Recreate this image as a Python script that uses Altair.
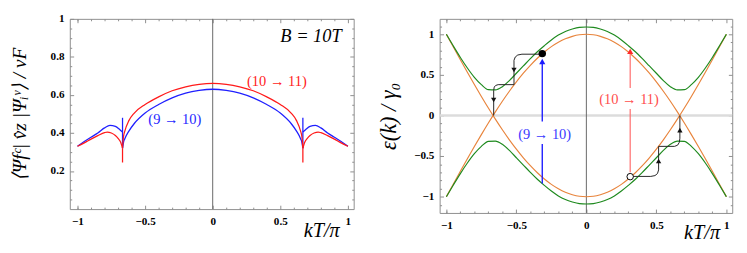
import altair as alt
import pandas as pd

# ---------------- left panel: matrix elements ----------------
blue_x = [-1.0, -0.95, -0.9, -0.85, -0.8, -0.76, -0.72, -0.69, -0.667,
          -0.667, -0.66, -0.65, -0.62, -0.58, -0.5, -0.4, -0.3, -0.2, -0.1, 0.0,
          0.1, 0.2, 0.3, 0.4, 0.5, 0.58, 0.62, 0.65, 0.66, 0.667,
          0.667, 0.69, 0.72, 0.76, 0.8, 0.85, 0.9, 0.95, 1.0]
blue_y = [0.33, 0.355, 0.378, 0.40, 0.427, 0.44, 0.435, 0.42, 0.405,
          0.32, 0.35, 0.37, 0.41, 0.45, 0.505, 0.55, 0.585, 0.61, 0.624, 0.63,
          0.624, 0.61, 0.585, 0.55, 0.505, 0.45, 0.41, 0.37, 0.35, 0.32,
          0.405, 0.42, 0.435, 0.44, 0.427, 0.40, 0.378, 0.355, 0.33]
blue_seg = [0, 0, 0, 0, 0, 0, 0, 0, 0,
            1, 1, 1, 1, 1, 1, 1, 1, 1, 1, 1, 1, 1, 1, 1, 1, 1, 1, 1, 1, 1,
            2, 2, 2, 2, 2, 2, 2, 2, 2]

red_x = [-1.0, -0.95, -0.9, -0.85, -0.8, -0.78, -0.75, -0.72, -0.7, -0.68, -0.667,
         -0.667, -0.66, -0.65, -0.62, -0.58, -0.5, -0.4, -0.3, -0.2, -0.1, 0.0,
         0.1, 0.2, 0.3, 0.4, 0.5, 0.58, 0.62, 0.65, 0.66, 0.667,
         0.667, 0.68, 0.7, 0.72, 0.75, 0.78, 0.8, 0.85, 0.9, 0.95, 1.0]
red_y = [0.33, 0.348, 0.368, 0.386, 0.402, 0.405, 0.40, 0.387, 0.372, 0.35, 0.32,
         0.32, 0.38, 0.41, 0.465, 0.505, 0.55, 0.59, 0.622, 0.643, 0.656, 0.661,
         0.656, 0.643, 0.622, 0.59, 0.55, 0.505, 0.465, 0.41, 0.38, 0.32,
         0.32, 0.35, 0.372, 0.387, 0.40, 0.405, 0.402, 0.386, 0.368, 0.348, 0.33]
red_seg = [0, 0, 0, 0, 0, 0, 0, 0, 0, 0, 0,
           1, 1, 1, 1, 1, 1, 1, 1, 1, 1, 1, 1, 1, 1, 1, 1, 1, 1, 1, 1, 1,
           2, 2, 2, 2, 2, 2, 2, 2, 2, 2, 2]

# vertical spikes at the band crossings
spike_series = ["blue", "blue", "red", "red"]
spike_x = [-0.667, 0.667, -0.667, 0.667]
spike_lo = [0.32, 0.32, 0.245, 0.245]
spike_hi = [0.48, 0.48, 0.32, 0.32]

# ---------------- right panel: bands ----------------
k_grid = [-1.0, -0.95, -0.9, -0.85, -0.8, -0.75, -0.7, -0.65, -0.6, -0.55, -0.5,
          -0.45, -0.4, -0.35, -0.3, -0.25, -0.2, -0.15, -0.1, -0.05, 0.0,
          0.05, 0.1, 0.15, 0.2, 0.25, 0.3, 0.35, 0.4, 0.45, 0.5,
          0.55, 0.6, 0.65, 0.7, 0.75, 0.8, 0.85, 0.9, 0.95, 1.0]
orange_a = [1.0, 0.843, 0.687, 0.533, 0.382, 0.235, 0.092, -0.045, -0.176, -0.299, -0.414,
            -0.521, -0.618, -0.705, -0.782, -0.848, -0.902, -0.945, -0.975, -0.994, -1.0,
            -0.994, -0.975, -0.945, -0.902, -0.848, -0.782, -0.705, -0.618, -0.521, -0.414,
            -0.299, -0.176, -0.045, 0.092, 0.235, 0.382, 0.533, 0.687, 0.843, 1.0]
orange_b = [-1.0, -0.843, -0.687, -0.533, -0.382, -0.235, -0.092, 0.045, 0.176, 0.299, 0.414,
            0.521, 0.618, 0.705, 0.782, 0.848, 0.902, 0.945, 0.975, 0.994, 1.0,
            0.994, 0.975, 0.945, 0.902, 0.848, 0.782, 0.705, 0.618, 0.521, 0.414,
            0.299, 0.176, 0.045, -0.092, -0.235, -0.382, -0.533, -0.687, -0.843, -1.0]
green_up = [1.0, 0.855, 0.715, 0.585, 0.47, 0.38, 0.318, 0.315, 0.355, 0.43, 0.52,
            0.61, 0.70, 0.785, 0.86, 0.93, 0.99, 1.035, 1.065, 1.085, 1.09,
            1.085, 1.065, 1.035, 0.99, 0.93, 0.86, 0.785, 0.70, 0.61, 0.52,
            0.43, 0.355, 0.315, 0.318, 0.38, 0.47, 0.585, 0.715, 0.855, 1.0]
green_dn = [-1.0, -0.855, -0.715, -0.585, -0.47, -0.38, -0.318, -0.315, -0.355, -0.43, -0.52,
            -0.61, -0.70, -0.785, -0.86, -0.93, -0.99, -1.035, -1.065, -1.085, -1.09,
            -1.085, -1.065, -1.035, -0.99, -0.93, -0.86, -0.785, -0.70, -0.61, -0.52,
            -0.43, -0.355, -0.315, -0.318, -0.38, -0.47, -0.585, -0.715, -0.855, -1.0]

# transition arrows (vertical), split around their labels
blue_arrow_x = [-0.315, -0.315, -0.315, -0.315]
blue_arrow_y = [-0.836, -0.35, -0.075, 0.66]
blue_arrow_seg = [0, 0, 1, 1]
red_arrow_x = [0.313, 0.313, 0.313, 0.313]
red_arrow_y = [-0.70, 0.08, 0.34, 0.78]
red_arrow_seg = [0, 0, 1, 1]

# black relaxation paths
path1_x = [-0.315, -0.46, -0.49, -0.508, -0.517, -0.517, -0.63, -0.648, -0.658, -0.662, -0.662]
path1_y = [0.755, 0.755, 0.745, 0.72, 0.68, 0.38, 0.38, 0.37, 0.35, 0.31, 0.0]
path2_x = [0.313, 0.46, 0.49, 0.508, 0.516, 0.516, 0.63, 0.652, 0.664, 0.668, 0.668]
path2_y = [-0.75, -0.75, -0.74, -0.715, -0.67, -0.38, -0.38, -0.365, -0.33, -0.28, 0.0]

head_x = [-0.517, -0.662, 0.516, 0.668]
head_y = [0.56, 0.19, -0.56, -0.18]
head_shape = ["triangle-down", "triangle-down", "triangle-up", "triangle-up"]

FONT = "'Liberation Serif', 'Times New Roman', Times, serif"
TICK = "#8c8c8c"
BLUE = "#1f1fff"
RED = "#ff1a1a"
ORANGE = "#e8843c"
GREEN = "#1e8a1e"

# ---------------- data frames ----------------
def curve_df(xs, ys, segs):
    return pd.DataFrame({"x": xs, "y": ys, "seg": segs, "i": list(range(len(xs)))})


blue_df = curve_df(blue_x, blue_y, blue_seg)
red_df = curve_df(red_x, red_y, red_seg)
spike_df = pd.DataFrame({"x": spike_x, "lo": spike_lo, "hi": spike_hi, "series": spike_series})

rows = []
for name, ys in [("orange_a", orange_a), ("orange_b", orange_b), ("green_up", green_up), ("green_dn", green_dn)]:
    for i, (a, b) in enumerate(zip(k_grid, ys)):
        rows.append({"x": a, "y": b, "series": name, "i": i})
right_df = pd.DataFrame(rows)

blue_arrow_df = curve_df(blue_arrow_x, blue_arrow_y, blue_arrow_seg)
red_arrow_df = curve_df(red_arrow_x, red_arrow_y, red_arrow_seg)

path_rows = []
for name, xs, ys in [("p1", path1_x, path1_y), ("p2", path2_x, path2_y)]:
    for i, (a, b) in enumerate(zip(xs, ys)):
        path_rows.append({"x": a, "y": b, "seg": name, "i": i})
path_df = pd.DataFrame(path_rows)

head_df = pd.DataFrame({"x": head_x, "y": head_y, "shape": head_shape})


def tick_axis(orient, values, size, labels=False, **kw):
    return alt.Axis(orient=orient, values=values, tickSize=size, offset=-size, domain=False,
                    grid=False, labels=labels, tickColor=TICK, tickWidth=1, **kw)


def make_panel(df, xs, ys, h, xmaj, xmin, ymaj, ymin, xtitle_x, xtitle_y, ytitle, ytitle_x, ytitle_size):
    def X(axis):
        return alt.X("x:Q", scale=xs, axis=axis)

    def Y(axis):
        return alt.Y("y:Q", scale=ys, axis=axis)

    xmain = tick_axis("bottom", xmaj, 4, labels=True, format="~g", labelPadding=7,
                      labelFont=FONT, labelFontWeight="bold", labelFontSize=11.5, labelColor="black",
                      title="kT/π", titleFont=FONT, titleFontStyle="italic", titleFontWeight="normal",
                      titleFontSize=21, titleAlign="right", titleBaseline="alphabetic",
                      titleX=xtitle_x, titleY=xtitle_y, titleAnchor="start", titleColor="black")
    ymain = tick_axis("left", ymaj, 4, labels=True, format="~g", labelPadding=6,
                      labelFont=FONT, labelFontWeight="bold", labelFontSize=11.5, labelColor="black",
                      title=ytitle, titleFont=FONT, titleFontStyle="italic", titleFontWeight="normal",
                      titleFontSize=ytitle_size, titleX=ytitle_x, titleY=h / 2, titleAngle=-90,
                      titleAlign="center", titleBaseline="bottom", titleColor="black")
    carriers = [
        alt.Chart(df).mark_point(opacity=0).encode(x=X(xmain), y=Y(ymain)),
        alt.Chart(df).mark_point(opacity=0).encode(x=X(tick_axis("bottom", xmin, 2, title=None)),
                                                   y=Y(tick_axis("left", ymin, 2, title=None))),
        alt.Chart(df).mark_point(opacity=0).encode(x=X(tick_axis("top", xmaj, 4, title=None)),
                                                   y=Y(tick_axis("right", ymaj, 4, title=None))),
        alt.Chart(df).mark_point(opacity=0).encode(x=X(tick_axis("top", xmin, 2, title=None)),
                                                   y=Y(tick_axis("right", ymin, 2, title=None))),
    ]
    return X, Y, carriers


# ---------- left panel ----------
xsL = alt.Scale(domain=[-1.057, 1.043], nice=False, zero=False)
ysL = alt.Scale(domain=[0, 1.0], nice=False, zero=False)
minorL_x = [-1.0, -0.9, -0.8, -0.7, -0.6, -0.4, -0.3, -0.2, -0.1, 0.1, 0.2, 0.3, 0.4, 0.6, 0.7, 0.8, 0.9]
minorL_y = [0.05, 0.1, 0.15, 0.25, 0.3, 0.35, 0.45, 0.5, 0.55, 0.65, 0.7, 0.75, 0.85, 0.9, 0.95]
XL, YL, carL = make_panel(blue_df, xsL, ysL, 197, [-1, -0.5, 0, 0.5, 1], minorL_x,
                          [0.2, 0.4, 0.6, 0.8, 1.0], minorL_y, 279, 32,
                          "⟨Ψfᶜ| v̂z |Ψᵢᵛ⟩ / vF", -46, 20)

zeroL = alt.Chart(pd.DataFrame({"x": [0.0]})).mark_rule(color="#666", strokeWidth=1).encode(x=XL(None))
blueL = alt.Chart(blue_df).mark_line(strokeWidth=1.3, interpolate="monotone", color=BLUE).encode(
    x=XL(None), y=YL(None), detail="seg:N", order="i:Q")
redL = alt.Chart(red_df).mark_line(strokeWidth=1.3, interpolate="monotone", color=RED).encode(
    x=XL(None), y=YL(None), detail="seg:N", order="i:Q")
blueSp = alt.Chart(spike_df).transform_filter("datum.series == 'blue'").mark_rule(
    strokeWidth=1.3, color=BLUE).encode(x=XL(None), y=alt.Y("lo:Q", scale=ysL, axis=None), y2="hi:Q")
redSp = alt.Chart(spike_df).transform_filter("datum.series == 'red'").mark_rule(
    strokeWidth=1.3, color=RED).encode(x=XL(None), y=alt.Y("lo:Q", scale=ysL, axis=None), y2="hi:Q")

labL_B = alt.Chart(pd.DataFrame({"x": [0.727], "y": [0.907], "t": ["B = 10T"]})).mark_text(
    font=FONT, fontStyle="italic", fontSize=19, color="black").encode(x=XL(None), y=YL(None), text="t:N")
labL_r = alt.Chart(pd.DataFrame({"x": [0.475], "y": [0.674], "t": ["(10 → 11)"]})).mark_text(
    font=FONT, fontSize=15, color=RED).encode(x=XL(None), y=YL(None), text="t:N")
labL_b = alt.Chart(pd.DataFrame({"x": [-0.28], "y": [0.473], "t": ["(9 → 10)"]})).mark_text(
    font=FONT, fontSize=15, color=BLUE).encode(x=XL(None), y=YL(None), text="t:N")

left = alt.layer(zeroL, *carL, blueL, blueSp, redL, redSp,
                 labL_B, labL_r, labL_b).resolve_axis(x="independent", y="independent").properties(
    width=294, height=197)

# ---------- right panel ----------
xsR = alt.Scale(domain=[-1.048, 1.042], nice=False, zero=False)
ysR = alt.Scale(domain=[-1.2, 1.19], nice=False, zero=False)
minorR_x = [-1.0, -0.9, -0.8, -0.7, -0.6, -0.4, -0.3, -0.2, -0.1, 0.1, 0.2, 0.3, 0.4, 0.6, 0.7, 0.8, 0.9]
minorR_y = [-1.1, -0.9, -0.8, -0.7, -0.6, -0.4, -0.3, -0.2, -0.1, 0.1, 0.2, 0.3, 0.4, 0.6, 0.7, 0.8, 0.9, 1.1]
XR, YR, carR = make_panel(right_df, xsR, ysR, 201, [-1, -0.5, 0, 0.5, 1], minorR_x,
                          [-1, -0.5, 0, 0.5, 1], minorR_y, 290, 30,
                          "ε(k) / γ₀", -45, 23)

zeroRx = alt.Chart(pd.DataFrame({"x": [0.0]})).mark_rule(color="#666", strokeWidth=1).encode(x=XR(None))
zeroRy = alt.Chart(pd.DataFrame({"y": [0.0]})).mark_rule(color="#dcdcdc", strokeWidth=2.5).encode(y=YR(None))
orangeR = alt.Chart(right_df).transform_filter("indexof(datum.series, 'orange') == 0").mark_line(
    strokeWidth=1.2, interpolate="monotone", color=ORANGE).encode(
    x=XR(None), y=YR(None), detail="series:N", order="i:Q")
greenR = alt.Chart(right_df).transform_filter("indexof(datum.series, 'green') == 0").mark_line(
    strokeWidth=1.2, interpolate="monotone", color=GREEN).encode(
    x=XR(None), y=YR(None), detail="series:N", order="i:Q")

blueArr = alt.Chart(blue_arrow_df).mark_line(strokeWidth=1.4, color="#1a1aff").encode(
    x=XR(None), y=YR(None), detail="seg:N", order="i:Q")
redArr = alt.Chart(red_arrow_df).mark_line(strokeWidth=1.2, color="#ff6a6a").encode(
    x=XR(None), y=YR(None), detail="seg:N", order="i:Q")
blueHead = alt.Chart(pd.DataFrame({"x": [-0.315], "y": [0.665]})).mark_point(
    shape="triangle-up", filled=True, size=40, opacity=1, color="#1a1aff").encode(x=XR(None), y=YR(None))
redHead = alt.Chart(pd.DataFrame({"x": [0.313], "y": [0.79]})).mark_point(
    shape="triangle-up", filled=True, size=40, opacity=1, color="#ff2a2a").encode(x=XR(None), y=YR(None))
pathsR = alt.Chart(path_df).mark_line(strokeWidth=1, color="#222").encode(
    x=XR(None), y=YR(None), detail="seg:N", order="i:Q")
headsR = alt.Chart(head_df).mark_point(filled=True, size=30, color="#111", opacity=1).encode(
    x=XR(None), y=YR(None), shape=alt.Shape("shape:N", scale=None))
dotR = alt.Chart(pd.DataFrame({"x": [-0.315], "y": [0.762]})).mark_point(
    filled=True, size=60, color="black", opacity=1).encode(x=XR(None), y=YR(None))
hollowR = alt.Chart(pd.DataFrame({"x": [0.313], "y": [-0.753]})).mark_point(
    filled=True, size=45, fill="white", stroke="black", strokeWidth=1, opacity=1).encode(x=XR(None), y=YR(None))
labR_b = alt.Chart(pd.DataFrame({"x": [-0.298], "y": [-0.232], "t": ["(9 → 10)"]})).mark_text(
    font=FONT, fontSize=15, color="#3a3aff").encode(x=XR(None), y=YR(None), text="t:N")
labR_r = alt.Chart(pd.DataFrame({"x": [0.305], "y": [0.20], "t": ["(10 → 11)"]})).mark_text(
    font=FONT, fontSize=15, color="#ff4d4d").encode(x=XR(None), y=YR(None), text="t:N")

right = alt.layer(zeroRy, zeroRx, *carR, orangeR, greenR, blueArr, redArr, blueHead, redHead,
                  pathsR, headsR, dotR, hollowR, labR_b, labR_r).resolve_axis(
    x="independent", y="independent").properties(width=303, height=201)

chart = alt.hconcat(left, right, spacing=89, bounds="flush").properties(
    padding={"left": 1, "top": 0, "right": 5, "bottom": 0}
).configure_view(stroke="#8c8c8c", strokeWidth=1).configure_axis(grid=False)

chart.save("out.html", embed_options={"renderer": "svg", "actions": False})
